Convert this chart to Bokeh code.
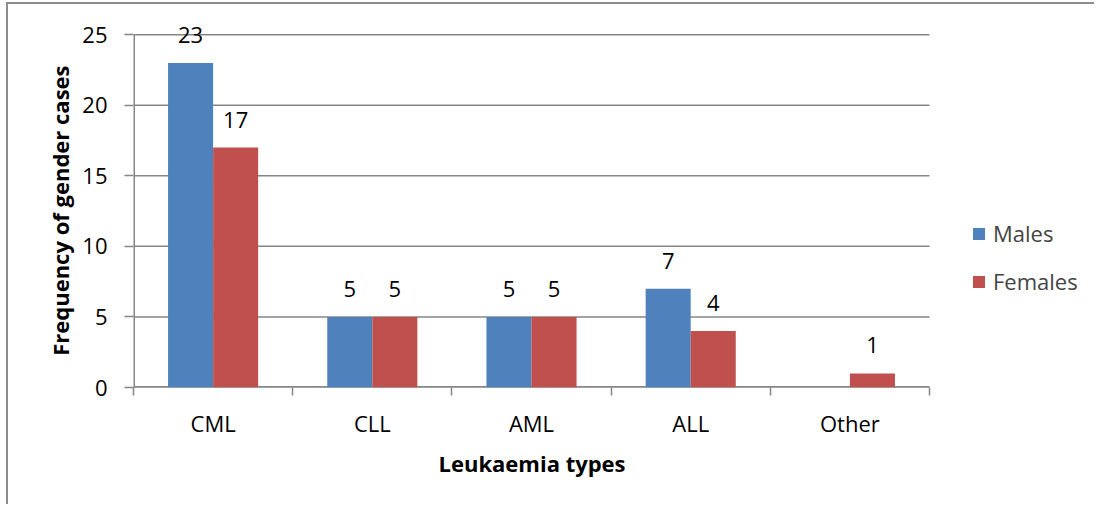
from bokeh.plotting import figure
from bokeh.models import (ColumnDataSource, FixedTicker, Legend, LegendItem,
                          LabelSet, Range1d, Title)
from bokeh.core.properties import value
from bokeh.embed import file_html
from bokeh.resources import INLINE

# Leukaemia cases by type and gender
categories = ["CML", "CLL", "AML", "ALL", "Other"]
males = [23, 5, 5, 7, 0]
females = [17, 5, 5, 4, 1]
y_ticks = [0, 5, 10, 15, 20, 25]
y_max = 25

FONT = "Open Sans"
FS = "22px"
GRID = "#868686"
BLUE = "#4F81BD"
RED = "#C0504D"
BAR_W = 0.283

n = len(categories)
centers = [i + 0.5 for i in range(n)]
male_x = [c - BAR_W / 2 for c in centers]
female_x = [c + BAR_W / 2 for c in centers]

# the plotting frame runs on to the right edge so the legend can sit beside the bars
PLOT_L, PLOT_R, PAGE_R = 133, 929, 1096
x_end = n * (PAGE_R - PLOT_L) / (PLOT_R - PLOT_L)

p = figure(width=1088, height=502, output_backend="svg", toolbar_location=None,
           x_range=Range1d(0, x_end), y_range=Range1d(0, y_max + 1.5))
p.styles = {"margin-left": "6px", "margin-top": "2px",
            "border-left": "2px solid #8c8c8c", "border-top": "2px solid #8c8c8c"}
p.min_border_left = 125
p.min_border_right = 0
p.min_border_top = 9
p.min_border_bottom = 119
p.outline_line_color = None
p.background_fill_color = "white"
p.border_fill_color = "white"
p.xgrid.grid_line_color = None
p.ygrid.grid_line_color = None

# horizontal gridlines and axis lines across the category area only
p.segment(x0=[0] * len(y_ticks), x1=[n] * len(y_ticks), y0=y_ticks, y1=y_ticks,
          line_color=GRID, line_width=1.5)
p.segment(x0=[0], y0=[0], x1=[0], y1=[y_max], line_color=GRID, line_width=3)
p.segment(x0=[0], y0=[0], x1=[n], y1=[0], line_color=GRID, line_width=3)

src_m = ColumnDataSource(dict(x=male_x, top=males))
src_f = ColumnDataSource(dict(x=female_x, top=females))
rm = p.vbar(x="x", top="top", bottom=0, width=BAR_W, source=src_m,
            fill_color=BLUE, line_color=None)
rf = p.vbar(x="x", top="top", bottom=0, width=BAR_W, source=src_f,
            fill_color=RED, line_color=None)

# value labels (zero counts are not labelled)
lab_x, lab_y, lab_t = [], [], []
for xs, vals in ((male_x, males), (female_x, females)):
    for x, v in zip(xs, vals):
        if v > 0:
            lab_x.append(x)
            lab_y.append(v)
            lab_t.append(str(v))
labels = LabelSet(x="x", y="y", text="t",
                  source=ColumnDataSource(dict(x=lab_x, y=lab_y, t=lab_t)),
                  y_offset=28, text_align="center", text_baseline="middle",
                  text_font=value(FONT), text_font_size=value(FS),
                  text_color="black")
p.add_layout(labels)

# axes
p.xaxis.ticker = FixedTicker(ticks=centers, minor_ticks=list(range(n + 1)))
p.xaxis.major_label_overrides = {c: name for c, name in zip(centers, categories)}
p.xaxis.major_tick_out = 0
p.xaxis.major_tick_in = 0
p.xaxis.minor_tick_out = 8
p.xaxis.minor_tick_in = 0
p.xaxis.minor_tick_line_color = GRID
p.xaxis.minor_tick_line_width = 1.5
p.xaxis.axis_line_color = None
p.xaxis.major_label_standoff = 12

p.yaxis.ticker = FixedTicker(ticks=y_ticks)
p.yaxis.major_tick_out = 9
p.yaxis.major_tick_in = 0
p.yaxis.minor_tick_line_color = None
p.yaxis.major_tick_line_color = GRID
p.yaxis.major_tick_line_width = 1.5
p.yaxis.axis_line_color = None
p.yaxis.major_label_standoff = 17

for ax in (p.xaxis[0], p.yaxis[0]):
    ax.major_label_text_font = FONT
    ax.major_label_text_font_size = FS
    ax.major_label_text_color = "black"

title_style = dict(text_font=FONT, text_font_size=FS, text_font_style="bold",
                   text_color="black")
p.add_layout(Title(text="Leukaemia types", align="left", offset=305, **title_style),
             "below")
p.add_layout(Title(text="Frequency of gender cases", align="right", offset=52,
                   standoff=10, **title_style), "left")

legend = Legend(items=[LegendItem(label="Males", renderers=[rm]),
                       LegendItem(label="Females", renderers=[rf])],
                location=(838, 91), border_line_color=None, background_fill_alpha=0,
                padding=0, margin=0, glyph_width=15, glyph_height=15,
                spacing=18, label_standoff=7,
                label_text_font=FONT, label_text_font_size=FS)
p.add_layout(legend, "center")

open("out.html", "w").write(file_html(p, INLINE))
